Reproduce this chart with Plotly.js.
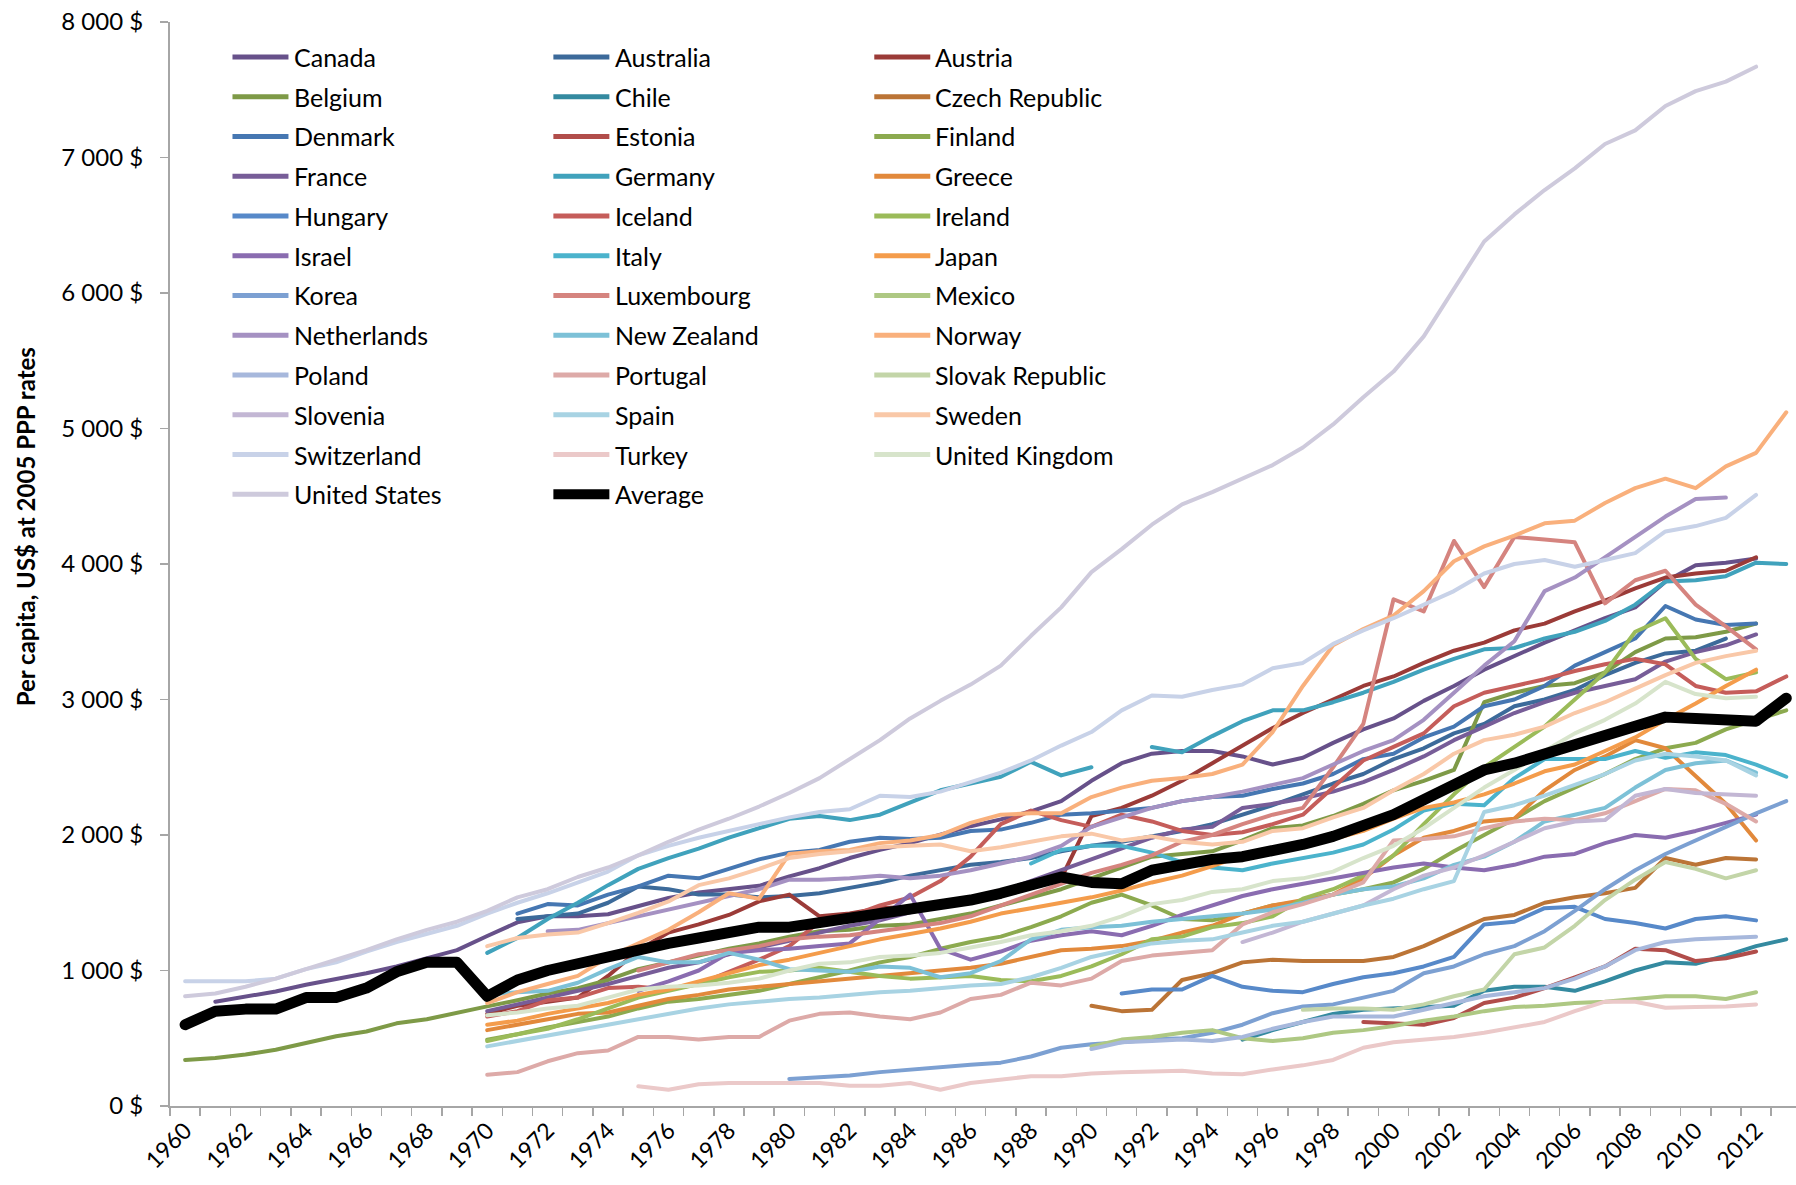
<!DOCTYPE html>
<html>
<head>
<meta charset="utf-8">
<script src="https://cdn.plot.ly/plotly-3.0.1.min.js"></script>
<style>
  html, body { margin: 0; padding: 0; background: #ffffff; }
  #chart { width: 1796px; height: 1185px; }
  .js-line { stroke-linejoin: round; stroke-linecap: round; }
</style>
</head>
<body>
<div id="chart"></div>
<script>
const _ = null;
// Years 1960 ... 2013 (54 categories)
const years = [];
for (let y = 1960; y <= 2013; y++) years.push(y);

const countries = ['Canada','Australia','Austria','Belgium','Chile','Czech Republic','Denmark','Estonia','Finland',
  'France','Germany','Greece','Hungary','Iceland','Ireland','Israel','Italy','Japan','Korea','Luxembourg','Mexico',
  'Netherlands','New Zealand','Norway','Poland','Portugal','Slovak Republic','Slovenia','Spain','Sweden',
  'Switzerland','Turkey','United Kingdom','United States','Average'];

const colors = ['#67518A','#3C6A9A','#9B3B38','#7E9A47','#348AA0','#BB7436','#4677B2','#B14D4A','#8CAA4F',
  '#775D98','#40A2BC','#E2893B','#5789C9','#C55D5A','#9BBB59','#8A6CB0','#4BB3CC','#F49C4B','#7CA0D2','#D5847F','#AEC883',
  '#A591C2','#7DC1D7','#F9B07C','#A7B8DC','#DDAAA8','#C3D5A8','#C3B7D4','#A8D3E3','#F9C8A8',
  '#C8D2E8','#EBC9C9','#D7E4CB','#CECADC','#000000'];

// Values per year 1960..2013 (US$ per capita, 2005 PPP)
const canada = [_,770,810,845,895,935,980,1030,1090,1150, 1255,1355,1400,1400,1415,1475,1535,1575,1600,1625,
  1695,1755,1830,1890,1940,2000,2065,2115,2175,2250, 2400,2530,2600,2620,2620,2580,2520,2570,2680,2780,
  2860,2990,3100,3220,3320,3420,3510,3600,3680,3870, 3990,4010,4040,_];
const australia = [_,_,_,_,_,_,_,_,_,_, _,1380,1400,1420,1500,1620,1600,1560,1560,1540,
  1550,1570,1610,1650,1700,1740,1780,1800,1830,1880, 1920,1950,1990,2030,2080,2150,2220,2300,2380,2450,
  2560,2640,2750,2820,2950,3000,3070,3180,3270,3340, 3360,3450,_,_];
const austria = [_,_,_,_,_,_,_,_,_,_, 680,740,770,800,960,1150,1280,1340,1410,1510,
  1560,1400,1420,1460,1470,1490,1540,1590,1620,1680, 2140,2200,2290,2400,2530,2660,2790,2900,3000,3100,
  3170,3270,3360,3420,3510,3560,3650,3730,3820,3900, 3930,3950,4050,_];
const belgium = [340,355,380,415,465,515,550,610,640,690, 735,780,830,870,930,1010,1060,1110,1160,1200,
  1250,1290,1300,1330,1340,1380,1420,1480,1540,1600, 1680,1760,1840,1860,1880,1960,2050,2070,2140,2230,
  2330,2400,2480,2980,3050,3100,3120,3200,3350,3450, 3460,3500,3560,_];
const chile = [_,_,_,_,_,_,_,_,_,_, _,_,_,_,_,_,_,_,_,_, _,_,_,_,_,_,_,_,_,_,
  _,_,_,_,_,490,560,620,680,710, 720,730,740,850,880,880,850,920,1000,1060, 1050,1110,1180,1230];
const czech = [_,_,_,_,_,_,_,_,_,_, _,_,_,_,_,_,_,_,_,_, _,_,_,_,_,_,_,_,_,_,
  740,700,710,930,980,1060,1080,1070,1070,1070, 1100,1180,1280,1380,1410,1500,1540,1570,1610,1830, 1780,1830,1820,_];
const denmark = [_,_,_,_,_,_,_,_,_,_, _,1420,1490,1480,1560,1620,1700,1680,1750,1820,
  1870,1890,1950,1980,1970,1980,2030,2040,2090,2150, 2160,2180,2200,2250,2280,2290,2340,2380,2450,2560,
  2600,2720,2800,2950,3000,3100,3250,3350,3450,3690, 3590,3550,3560,_];
const estonia = [_,_,_,_,_,_,_,_,_,_, _,_,_,_,_,_,_,_,_,_, _,_,_,_,_,_,_,_,_,_,
  _,_,_,_,_,_,_,_,_,620, 610,600,650,760,800,870,950,1030,1160,1150, 1070,1090,1140,_];
const finland = [_,_,_,_,_,_,_,_,_,_, 490,530,580,620,660,720,770,790,820,850,
  900,950,1000,1060,1100,1160,1210,1250,1320,1400, 1500,1560,1480,1380,1370,1420,1480,1510,1560,1600,
  1650,1750,1880,2000,2120,2250,2350,2450,2560,2640, 2680,2780,2850,2920];
const france = [_,_,_,_,_,_,_,_,_,_, 700,750,800,850,900,960,1020,1060,1120,1170,
  1220,1280,1330,1370,1430,1480,1540,1580,1660,1740, 1820,1900,1980,2040,2060,2200,2230,2270,2320,2390,
  2480,2580,2700,2800,2900,2980,3050,3100,3150,3280, 3350,3400,3480,_];
const germany = [_,_,_,_,_,_,_,_,_,_, 1130,1240,1380,1500,1630,1750,1830,1900,1980,2050,
  2120,2140,2110,2150,2240,2330,2380,2430,2540,2440, 2500,_,2650,2610,2730,2840,2920,2920,2980,3050,
  3130,3220,3300,3370,3380,3450,3500,3580,3700,3870, 3880,3910,4010,4000];
const greece = [_,_,_,_,_,_,_,_,_,_, 560,600,640,680,690,740,790,820,860,880,
  900,920,940,960,980,1000,1020,1050,1100,1150, 1160,1180,1220,1280,1330,1420,1480,1520,1560,1680,
  1850,1980,2030,2100,2120,2330,2480,2580,2700,2640, 2430,2230,1960,_];
const hungary = [_,_,_,_,_,_,_,_,_,_, _,_,_,_,_,_,_,_,_,_, _,_,_,_,_,_,_,_,_,_,
  _,830,860,860,960,880,850,840,900,950, 980,1030,1100,1340,1360,1460,1470,1380,1350,1310, 1380,1400,1370,_];
const iceland = [_,_,_,_,_,_,_,_,_,_, 660,700,780,800,870,880,860,900,990,1080,
  1180,1360,1400,1480,1540,1660,1840,2080,2180,2110, 2060,2150,2100,2030,2000,2020,2080,2150,2350,2550,
  2650,2750,2950,3050,3100,3150,3210,3260,3300,3260, 3100,3050,3060,3170];
const ireland = [_,_,_,_,_,_,_,_,_,_, 480,530,570,640,720,800,850,900,950,990,
  1000,1020,990,960,940,950,960,930,920,960, 1030,1120,1230,1250,1320,1350,1400,1530,1600,1700,
  1850,2080,2300,2500,2650,2800,3000,3200,3500,3600, 3300,3150,3200,_];
const israel = [_,_,_,_,_,_,_,_,_,_, _,_,_,_,_,850,920,1000,1130,1150,
  1160,1180,1200,1380,1560,1160,1080,1140,1220,1260, 1290,1260,1330,1410,1480,1550,1600,1640,1680,1720,
  1760,1790,1760,1740,1780,1840,1860,1940,2000,1980, 2030,2090,2150,_];
const italy = [_,_,_,_,_,_,_,_,_,_, _,_,_,_,_,_,_,_,_,_, _,_,_,_,_,_,_,_,1790,1890,
  1920,1920,1870,1800,1760,1740,1790,1830,1870,1930, 2040,2180,2230,2220,2420,2560,2560,2560,2620,2570, 2610,2590,2520,2430];
const japan = [_,_,_,_,_,_,_,_,_,_, 600,630,680,720,760,820,860,920,980,1040,
  1080,1130,1180,1230,1270,1310,1360,1420,1460,1500, 1540,1590,1650,1700,1770,1850,1900,1920,1970,2030,
  2120,2200,2240,2300,2380,2470,2520,2620,2720,2850, 2970,3100,3220,_];
const korea = [_,_,_,_,_,_,_,_,_,_, _,_,_,_,_,_,_,_,_,_,
  200,215,225,250,270,290,305,320,365,430, 455,470,490,500,540,600,685,735,750,800,
  850,980,1030,1120,1180,1290,1440,1600,1740,1860, 1960,2060,2160,2250];
const luxembourg = [_,_,_,_,_,_,_,_,_,_, _,_,_,_,_,1000,1060,1120,1150,1180,
  1230,1250,1260,1290,1320,1350,1400,1480,1560,1640, 1720,1780,1850,1950,2000,2080,2150,2200,2500,2820,
  3740,3650,4170,3830,4200,4180,4160,3710,3880,3950, 3700,3540,3370,_];
const mexico = [_,_,_,_,_,_,_,_,_,_, _,_,_,_,_,_,_,_,_,_, _,_,_,_,_,_,_,_,_,_,
  440,490,510,540,560,500,480,500,540,560, 590,630,660,700,730,740,760,770,790,810, 810,790,840,_];
const netherlands = [_,_,_,_,_,_,_,_,_,_, _,_,1290,1300,1350,1400,1450,1500,1550,1600,
  1670,1670,1680,1700,1680,1700,1740,1790,1840,1920, 2060,2130,2200,2250,2280,2320,2370,2420,2520,2620,
  2700,2850,3050,3250,3430,3800,3900,4050,4200,4350, 4480,4490,_,_];
const newZealand = [_,_,_,_,_,_,_,_,_,_, 820,840,850,910,1010,1100,1060,1060,1130,1080,
  1010,1000,990,1030,1020,950,980,1070,1230,1300, 1320,1330,1360,1380,1400,1420,1450,1500,1560,1600,
  1620,1680,1780,1840,1950,2100,2150,2200,2350,2480, 2530,2550,2460,_];
const norway = [_,_,_,_,_,_,_,_,_,_, 760,840,900,960,1100,1200,1300,1430,1570,1530,
  1860,1880,1890,1940,1960,2000,2090,2150,2160,2160, 2280,2350,2400,2420,2450,2520,2760,3100,3400,3520,
  3620,3800,4020,4130,4210,4300,4320,4450,4560,4630, 4560,4720,4820,5120];
const poland = [_,_,_,_,_,_,_,_,_,_, _,_,_,_,_,_,_,_,_,_, _,_,_,_,_,_,_,_,_,_,
  420,470,480,490,480,510,570,620,660,660, 660,710,760,810,840,870,940,1030,1150,1210, 1230,1240,1250,_];
const portugal = [_,_,_,_,_,_,_,_,_,_, 230,250,330,390,410,510,510,490,510,510,
  630,680,690,660,640,690,790,820,910,890, 940,1070,1110,1130,1150,1340,1430,1490,1560,1650,
  1960,1970,1990,2050,2100,2120,2110,2160,2250,2340, 2330,2230,2100,_];
const slovakia = [_,_,_,_,_,_,_,_,_,_, _,_,_,_,_,_,_,_,_,_, _,_,_,_,_,_,_,_,_,_,
  _,_,_,_,_,_,_,710,720,720, 710,750,810,860,1120,1170,1330,1520,1670,1800, 1750,1680,1740,_];
const slovenia = [_,_,_,_,_,_,_,_,_,_, _,_,_,_,_,_,_,_,_,_, _,_,_,_,_,_,_,_,_,_,
  _,_,_,_,_,1210,1280,1360,1420,1480, 1600,1700,1760,1850,1950,2050,2100,2110,2290,2340, 2310,2300,2290,_];
const spain = [_,_,_,_,_,_,_,_,_,_, 440,480,520,560,600,640,680,720,750,770,
  790,800,820,840,850,870,890,900,950,1020, 1100,1150,1200,1220,1230,1280,1330,1360,1420,1480,
  1530,1600,1660,2170,2220,2290,2370,2450,2550,2600, 2580,2550,2440,_];
const sweden = [_,_,_,_,_,_,_,_,_,_, 1180,1240,1265,1280,1350,1425,1510,1630,1680,1750,
  1830,1860,1880,1910,1920,1930,1880,1910,1950,1990, 2010,1960,1990,1950,1930,1950,2030,2050,2130,2200,
  2330,2450,2600,2700,2740,2800,2900,2980,3080,3180, 3270,3320,3360,_];
const switzerland = [920,920,920,940,1010,1060,1140,1210,1270,1330, 1420,1500,1570,1650,1730,1850,1920,1980,2030,2080,
  2130,2170,2190,2290,2280,2320,2390,2460,2550,2660, 2760,2920,3030,3020,3070,3110,3230,3270,3410,3510,
  3600,3700,3800,3930,4000,4030,3980,4030,4080,4240, 4280,4340,4510,_];
const turkey = [_,_,_,_,_,_,_,_,_,_, _,_,_,_,_,145,120,160,170,170,
  170,170,150,150,170,120,170,195,220,220, 240,250,255,260,240,235,270,300,340,430,
  470,490,510,540,580,620,700,770,770,725, 730,735,750,_];
const unitedKingdom = [_,_,_,_,_,_,_,_,_,_, 670,690,720,740,800,860,880,890,910,940,
  1000,1050,1060,1100,1110,1130,1170,1210,1260,1290, 1330,1400,1490,1520,1580,1600,1660,1680,1730,1830,
  1920,2050,2200,2350,2480,2620,2750,2850,2970,3130, 3040,3010,3020,_];
const unitedStates = [810,830,880,940,1010,1080,1150,1230,1300,1360, 1440,1540,1600,1690,1760,1850,1950,2040,2120,2210,
  2310,2420,2560,2700,2860,2990,3110,3250,3470,3680, 3940,4110,4290,4440,4530,4630,4730,4860,5030,5230,
  5420,5680,6030,6380,6580,6760,6920,7100,7200,7380, 7490,7560,7670,_];
const average = [600,700,715,715,800,800,870,990,1060,1060, 810,930,1000,1050,1120,1160,1200,1240,1290,1320,
  1320,1350,1380,1420,1450,1480,1520,1570,1620,1690, 1650,1640,1740,1790,1820,1840,1880,1930,1990,2070,
  2150,2260,2380,2480,2530,2600,2670,2730,2790,2870, 2860,2860,2840,3010];

const seriesValues = [canada, australia, austria, belgium, chile, czech, denmark, estonia, finland,
  france, germany, greece, hungary, iceland, ireland, israel, italy, japan, korea, luxembourg, mexico,
  netherlands, newZealand, norway, poland, portugal, slovakia, slovenia, spain, sweden,
  switzerland, turkey, unitedKingdom, unitedStates, average];

const yTitle = 'Per capita, US$ at 2005 PPP rates';

// ---- geometry (pixels) ----
const W = 1796, H = 1185;
const M = { l: 169.5, r: 0, t: 22, b: 78.5 };
const plotW = W - M.l - M.r, plotH = H - M.t - M.b;
const pxX = px => (px - M.l) / plotW;
const pxY = py => (H - M.b - py) / plotH;
const yearPx = 30.22;

const traces = countries.map((name, i) => ({
  type: 'scatter', mode: 'lines', name: name,
  x: years, y: seriesValues[i],
  line: { color: colors[i], width: name === 'Average' ? 11 : 4 },
  connectgaps: false, showlegend: false, hoverinfo: 'skip'
}));

// custom legend: 3 columns, row-major order
const colSample = [232, 553, 874];
const colText = [294, 615, 935];
const shapes = [], annotations = [];
countries.forEach((name, i) => {
  const col = i % 3, row = Math.floor(i / 3);
  const yy = 57 + 39.77 * row;
  shapes.push({
    type: 'line', xref: 'paper', yref: 'paper', layer: 'above',
    x0: pxX(colSample[col]), x1: pxX(colSample[col] + 56), y0: pxY(yy), y1: pxY(yy),
    line: { color: colors[i], width: name === 'Average' ? 10 : 5 }
  });
  annotations.push({
    xref: 'paper', yref: 'paper', x: pxX(colText[col] - 2), y: pxY(yy),
    xanchor: 'left', yanchor: 'middle', showarrow: false, text: name,
    font: { family: 'Lato, sans-serif', size: 25, color: '#000000' }
  });
});
annotations.push({
  xref: 'paper', yref: 'paper', x: pxX(25), y: pxY(527), textangle: -90,
  xanchor: 'center', yanchor: 'middle', showarrow: false, text: yTitle,
  font: { family: 'Lato, sans-serif', size: 24, color: '#000000', weight: 700 }
});

const axisGray = '#A6A6A6';
const layout = {
  width: W, height: H,
  margin: { l: M.l, r: M.r, t: M.t, b: M.b, pad: 0 },
  paper_bgcolor: '#ffffff', plot_bgcolor: '#ffffff',
  separators: '. ',
  showlegend: false,
  xaxis: {
    range: [1959.5, 1959.5 + plotW / yearPx],
    tickmode: 'linear', tick0: 1960, dtick: 2, ticks: '',
    tickangle: -45,
    tickfont: { family: 'Lato, sans-serif', size: 23, color: '#000000' },
    showline: true, linecolor: axisGray, linewidth: 2,
    showgrid: false, zeroline: false,
    minor: { tickmode: 'linear', tick0: 1959.5, dtick: 1, ticks: 'outside', ticklen: 8, tickwidth: 1.5, tickcolor: axisGray, showgrid: false },
    fixedrange: true
  },
  yaxis: {
    range: [0, 8000], tickmode: 'linear', tick0: 0, dtick: 1000,
    tickformat: ',d', ticksuffix: ' $',
    ticks: 'outside', ticklen: 8, tickwidth: 1.5, tickcolor: axisGray,
    ticklabelstandoff: 12,
    tickfont: { family: 'Lato, sans-serif', size: 24, color: '#000000' },
    showline: true, linecolor: axisGray, linewidth: 2,
    showgrid: false, zeroline: false, fixedrange: true
  },
  shapes: shapes,
  annotations: annotations
};

Plotly.newPlot('chart', traces, layout, { displayModeBar: false, staticPlot: true });
</script>
</body>
</html>
